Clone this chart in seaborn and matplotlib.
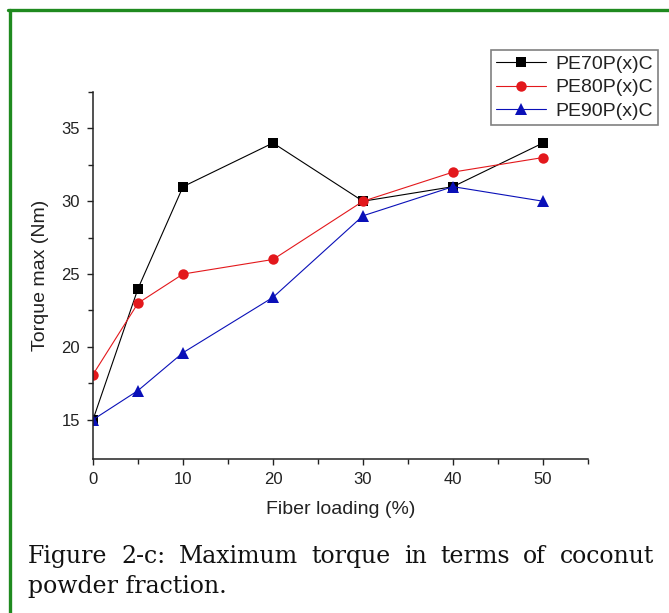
import numpy as np
import pandas as pd
import matplotlib
matplotlib.use("Agg")
import matplotlib.pyplot as plt
from matplotlib.lines import Line2D
import seaborn as sns

# data
fiber_loading = [0, 5, 10, 20, 30, 40, 50]
pe70 = [15, 24, 31, 34, 30, 31, 34]
pe80 = [18.1, 23, 25, 26, 30, 32, 33]
pe90 = [15, 17, 19.6, 23.4, 29, 31, 30]
samples = ["PE70P(x)C", "PE80P(x)C", "PE90P(x)C"]
colors = ["#000000", "#e3181c", "#0a10b8"]
markers = ["s", "o", "^"]
x_ticks = [0, 10, 20, 30, 40, 50]
y_ticks = [15, 20, 25, 30, 35]
caption_line1 = "Figure 2-c: Maximum torque in terms of coconut"
caption_line2 = "powder fraction."

df = pd.DataFrame({
    "loading": fiber_loading * 3,
    "torque": pe70 + pe80 + pe90,
    "sample": np.repeat(samples, len(fiber_loading)),
})

sns.set_style("ticks")
plt.rcParams["font.family"] = ["Liberation Sans", "DejaVu Sans"]

W, H = 669, 613
fig = plt.figure(figsize=(W / 100, H / 100), dpi=100)
ax = fig.add_axes([93 / W, 1 - 459 / H, (588 - 93) / W, (459 - 92) / H])

sns.lineplot(
    data=df, x="loading", y="torque", hue="sample", style="sample",
    hue_order=samples, style_order=samples,
    palette=dict(zip(samples, colors)), markers=dict(zip(samples, markers)),
    dashes=False, linewidth=0.8, markersize=7, markeredgewidth=0,
    legend=False, ax=ax,
)
for line, m in zip(ax.lines, markers):
    if m == "^":
        line.set_markersize(8)
    elif m == "o":
        line.set_markersize(7.5)

ax.set_xlim(0, 55)
ax.set_ylim(12.3, 37.5)
ax.set_xticks(x_ticks)
ax.set_yticks(y_ticks)
ax.set_xticks(np.arange(5, 56, 10), minor=True)
ax.set_yticks([17.5, 22.5, 27.5, 32.5, 37.5], minor=True)
ax.tick_params(axis="both", which="major", direction="out", length=4.5, width=1.0,
               labelsize=12, pad=5, color="#222222", labelcolor="#222222")
ax.tick_params(axis="both", which="minor", direction="out", length=3.5, width=1.0,
               color="#222222")
for side in ["top", "right"]:
    ax.spines[side].set_visible(False)
for side in ["left", "bottom"]:
    ax.spines[side].set_linewidth(1.1)
    ax.spines[side].set_color("#222222")

ax.set_xlabel("Fiber loading (%)", fontsize=14, labelpad=10, color="#222222")
ax.set_ylabel("Torque max (Nm)", fontsize=14, labelpad=9, color="#222222")

leg = ax.legend(
    ax.lines[:3], samples, loc="upper right",
    bbox_to_anchor=(658 / W, 1 - 50 / H), bbox_transform=fig.transFigure,
    borderaxespad=0, fontsize=14, frameon=True, fancybox=False,
    edgecolor="#808080", framealpha=1, handlelength=2.6, handletextpad=0.45,
    labelspacing=0.31, borderpad=0.27,
)
leg.get_frame().set_linewidth(1.2)
for t in leg.get_texts():
    t.set_color("#222222")

# green page border (left and top)
green = "#1f8a1f"
fig.add_artist(Line2D([9.5 / W, 9.5 / W], [0, 1 - 10 / H], color=green, lw=2.4,
                      transform=fig.transFigure))
fig.add_artist(Line2D([8.3 / W, 1], [1 - 10 / H, 1 - 10 / H], color=green, lw=2.4,
                      transform=fig.transFigure))

# caption, line 1 justified between left and right margins
cap_font = dict(family=["DejaVu Serif"], fontsize=17, color="#111111")
renderer = fig.canvas.get_renderer()
words = caption_line1.split()
left_px, right_px = 28, 654
texts = [fig.text(0, 1 - 563 / H, w, ha="left", va="baseline", **cap_font) for w in words]
widths = [t.get_window_extent(renderer).width for t in texts]
gap = (right_px - left_px - sum(widths)) / (len(words) - 1)
x = left_px
for t, w in zip(texts, widths):
    t.set_x(x / W)
    x += w + gap
fig.text(left_px / W, 1 - 593 / H, caption_line2, ha="left", va="baseline", **cap_font)

fig.savefig("out.png", dpi=100)
